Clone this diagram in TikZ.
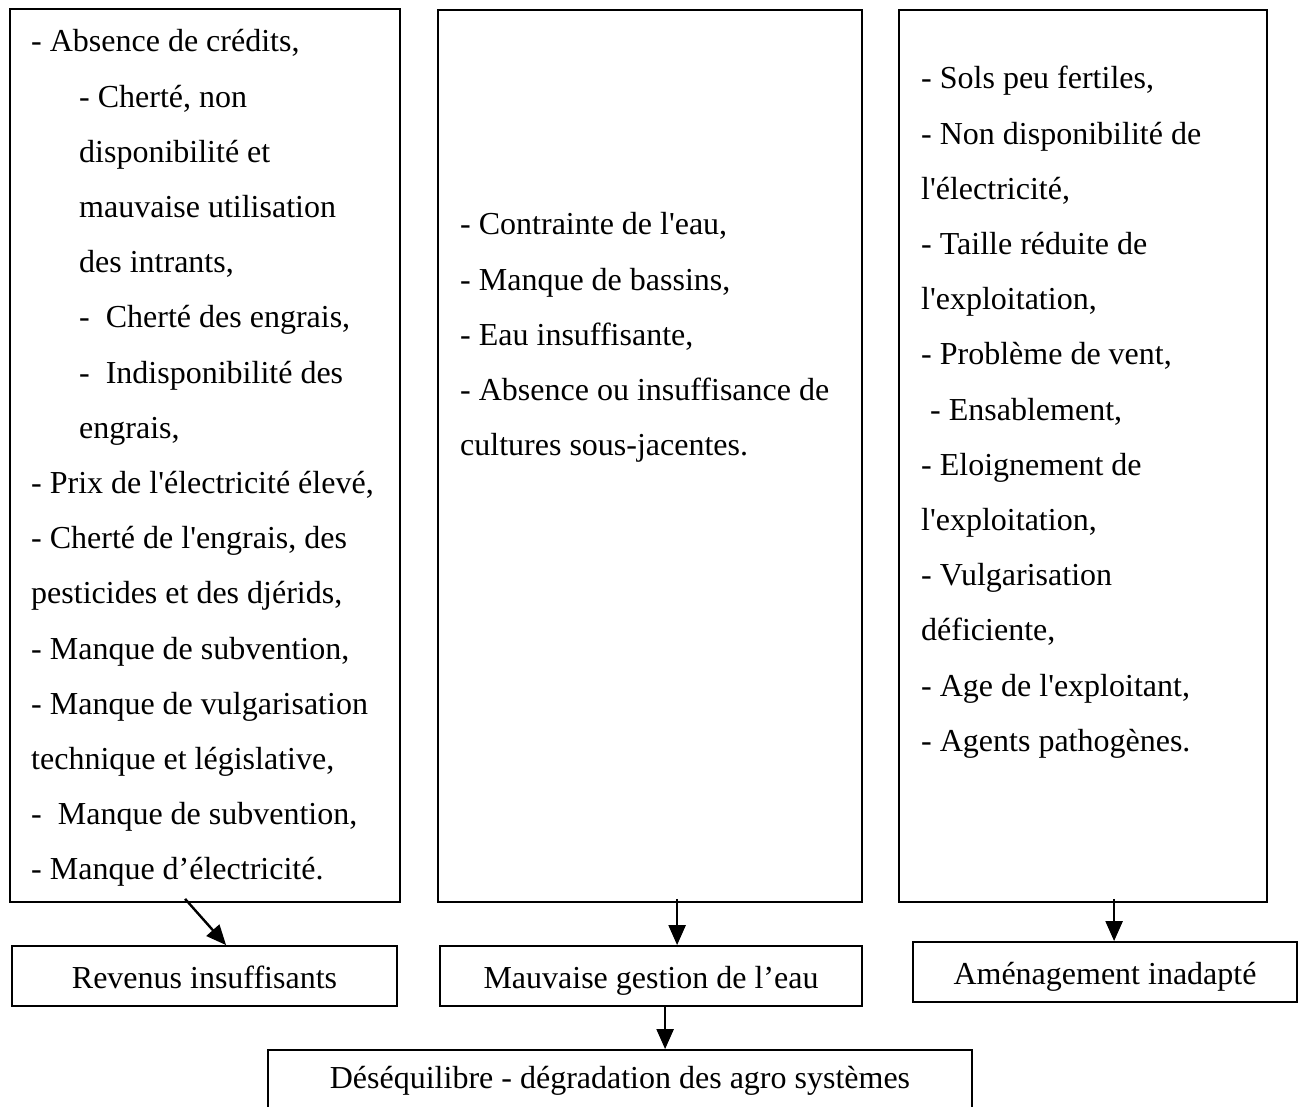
\documentclass[tikz,border=0pt]{standalone}
\usepackage{fontspec}
\setmainfont{Liberation Serif}[Ligatures={TeXOff,CommonOff}]
\usetikzlibrary{arrows.meta,calc}
\begin{document}
\begin{tikzpicture}[x=1pt,y=-1pt,
  box/.style={draw=black, line width=1.8pt, inner sep=0pt},
  lbl/.style={box, font=\fontsize{32}{38}\selectfont, minimum height=60pt, text height=31pt, text depth=7pt},
  lines/.style={anchor=base west, inner sep=0pt, font=\fontsize{32}{55.2}\selectfont},
  arr/.style={-{Triangle[length=20pt,width=17pt]}, line width=2.4pt}]
\clip (0,0) rectangle (1304,1107);
\fill[white] (0,0) rectangle (1304,1107);

% large boxes
\node[box, minimum width=390pt, minimum height=893pt] (L) at (205,455.5) {};
\node[box, minimum width=424pt, minimum height=892pt] (M) at (650,456) {};
\node[box, minimum width=368pt, minimum height=892pt] (R) at (1083,456) {};

% texts of large boxes
\node[lines] (Lt) at (31,52) {\parbox[t]{400pt}{\raggedright
- Absence de crédits,\\
\hspace*{48pt}- Cherté, non\\
\hspace*{48pt}disponibilité et\\
\hspace*{48pt}mauvaise utilisation\\
\hspace*{48pt}des intrants,\\
\hspace*{48pt}-~ Cherté des engrais,\\
\hspace*{48pt}-~ Indisponibilité des\\
\hspace*{48pt}engrais,\\
- Prix de l'électricité élevé,\\
- Cherté de l'engrais, des\\
pesticides et des djérids,\\
- Manque de subvention,\\
- Manque de vulgarisation\\
technique et législative,\\
-~ Manque de subvention,\\
- Manque d’électricité.}};

\node[lines] (Mt) at (460,235) {\parbox[t]{400pt}{\raggedright
- Contrainte de l'eau,\\
- Manque de bassins,\\
- Eau insuffisante,\\
- Absence ou insuffisance de\\
cultures sous-jacentes.}};

\node[lines] (Rt) at (921,89) {\parbox[t]{400pt}{\raggedright
- Sols peu fertiles,\\
- Non disponibilité de\\
l'électricité,\\
- Taille réduite de\\
l'exploitation,\\
- Problème de vent,\\
\hspace*{9pt}- Ensablement,\\
- Eloignement de\\
l'exploitation,\\
- Vulgarisation\\
déficiente,\\
- Age de l'exploitant,\\
- Agents pathogènes.}};

% result boxes
\node[lbl, minimum width=385pt] (Rv) at (204.5,976) {Revenus insuffisants};
\node[lbl, minimum width=422pt] (Mv) at (651,976) {Mauvaise gestion de l’eau};
\node[lbl, minimum width=384pt] (Am) at (1105,972) {Aménagement inadapté};
\node[box, minimum width=704pt, minimum height=60pt] (D) at (620,1080) {};
\node[font=\fontsize{32}{38}\selectfont, inner sep=0pt, anchor=base] (Dt) at (620,1088) {Déséquilibre - dégradation des agro systèmes};

% arrows
\draw[arr] ($(L.south west)+(176,-4)$) -- ($(Rv.north west)+(215,0)$);
\draw[arr] ($(M.south west)+(240,-4)$) -- ($(Mv.north west)+(238,0)$);
\draw[arr] ($(R.south west)+(216,-4)$) -- ($(Am.north west)+(202,0)$);
\draw[arr] ($(Mv.south west)+(226,0)$) -- ($(D.north west)+(398,0)$);
\end{tikzpicture}
\end{document}
